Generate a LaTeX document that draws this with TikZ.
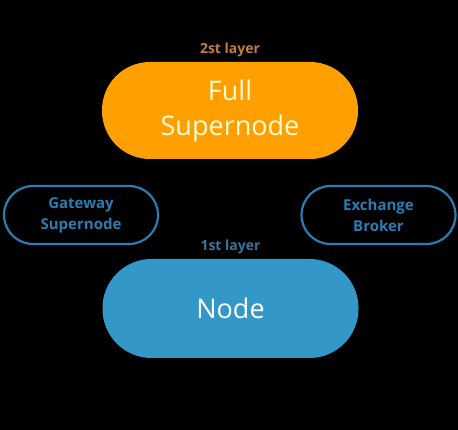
\documentclass[tikz,border=0pt]{standalone}
\usepackage{fontspec}
\setmainfont{Open Sans}
\usetikzlibrary{positioning}

\definecolor{fullorange}{HTML}{FFA000}
\definecolor{nodeblue}{HTML}{3397C8}
\definecolor{edgeblue}{HTML}{2B7DB0}
\definecolor{toplabel}{HTML}{C27C3E}
\definecolor{lowlabel}{HTML}{3E7399}

\begin{document}
\begin{tikzpicture}[x=1pt, y=1pt,
    layer/.style={rectangle, rounded corners=48pt, minimum width=256pt, minimum height=97pt,
      align=center, text=white, font=\fontsize{27}{35}\selectfont},
    side/.style={rectangle, rounded corners=29pt, draw=edgeblue, line width=2.2pt,
      minimum width=154pt, minimum height=58pt, align=center, text=edgeblue,
      font=\bfseries\fontsize{15}{21}\selectfont},
    tag/.style={font=\bfseries\fontsize{14}{16}\selectfont}]
    % Background
    \fill[black] (0,0) rectangle (458,430);
    \useasboundingbox (0,0) rectangle (458,430);

    % Layers
    \node[layer, fill=fullorange, text=white!85!yellow] (full) at (230,319.5) {Full\\Supernode};
    \node[layer, fill=nodeblue, minimum height=99pt, rounded corners=49pt] (node) at (230.5,121.5) {Node};

    % Side boxes
    \node[side] (gateway) at (81,215) {Gateway\\Supernode};
    \node[side] (broker) at (378.5,215) {Exchange\\Broker};

    % Layer labels
    \node[tag, text=toplabel, above=1pt of full] (toptag) {2st layer};
    \node[tag, text=lowlabel, above=1pt of node] (lowtag) {1st layer};
\end{tikzpicture}
\end{document}
